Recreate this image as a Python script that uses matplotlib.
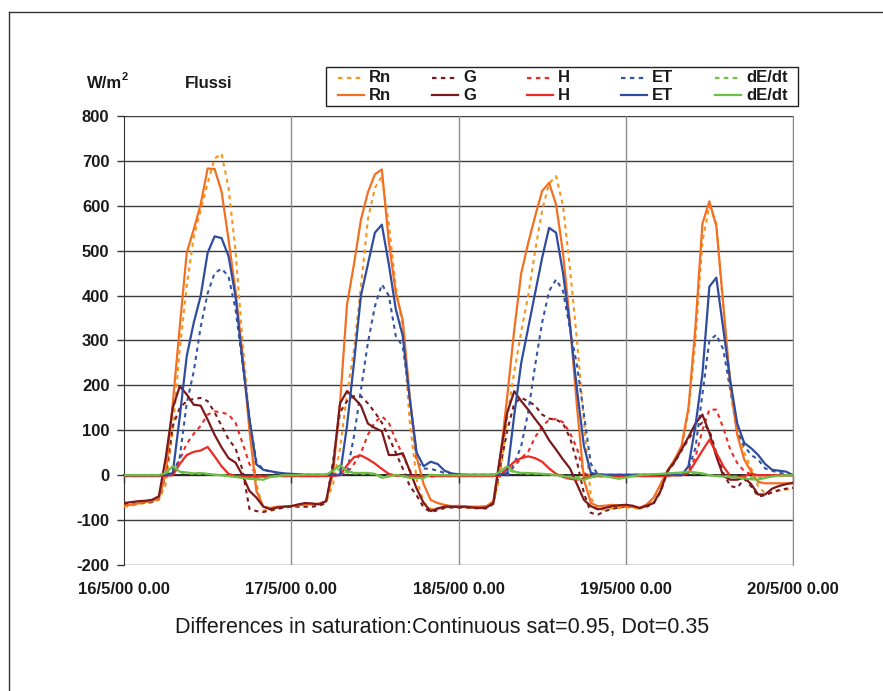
import matplotlib
matplotlib.use("Agg")
import matplotlib.pyplot as plt
from matplotlib.lines import Line2D
from matplotlib import font_manager
import matplotlib.transforms as mtransforms

# the original uses a condensed Helvetica; take Liberation Sans Narrow if present
installed = {f.name for f in font_manager.fontManager.ttflist}
if 'Liberation Sans Narrow' in installed:
    plt.rcParams['font.family'] = ['Liberation Sans Narrow', 'DejaVu Sans']
    lab_size, cap_size, sup_size = 14, 19, 10
else:
    plt.rcParams['font.family'] = ['Liberation Sans', 'DejaVu Sans']
    lab_size, cap_size, sup_size = 12, 15.5, 8

# hourly values, 16/5/00 0.00 -> 20/5/00 0.00 (97 points), W/m2
hours = list(range(97))
day_ticks = [0, 24, 48, 72, 96]
day_labels = ["16/5/00 0.00", "17/5/00 0.00", "18/5/00 0.00", "19/5/00 0.00", "20/5/00 0.00"]

# continuous lines: sat=0.95
rn_sat = [-68, -66, -63, -60, -58, -52, 5, 160, 330, 495, 547, 603,
          683, 682, 632, 525, 410, 270, 100, -35, -70, -73, -70, -70,
          -69, -67, -66, -65, -63, -58, 5, 160, 380, 470, 569, 630,
          670, 681, 520, 406, 345, 176, 40, -20, -55, -62, -66, -69,
          -68, -70, -70, -70, -69, -58, 40, 176, 324, 450, 517, 577,
          633, 651, 603, 495, 339, 153, -10, -62, -69, -68, -66, -68,
          -70, -70, -73, -65, -50, -20, 10, 35, 65, 150, 330, 560,
          610, 555, 380, 200, 90, 35, 8, -15, -18, -18, -18, -18,
          -18]
g_sat = [-62, -60, -58, -57, -55, -47, 40, 150, 198, 180, 157, 155,
         124, 90, 62, 38, 28, 0, -35, -50, -70, -76, -72, -70,
         -69, -65, -62, -63, -65, -58, 20, 160, 187, 172, 155, 115,
         105, 98, 45, 45, 49, 10, -30, -62, -80, -74, -70, -70,
         -71, -70, -72, -73, -72, -62, 45, 140, 187, 165, 146, 125,
         105, 78, 57, 35, 15, -20, -55, -69, -76, -73, -69, -67,
         -66, -68, -73, -68, -62, -35, 10, 30, 57, 85, 115, 135,
         94, 42, -2, -10, -10, -5, -20, -43, -43, -30, -24, -20,
         -17]
h_sat = [-2, -2, -2, -2, -2, -2, -1, 0, 25, 45, 52, 55,
         63, 42, 20, 3, -2, -3, -3, -3, -3, -2, -2, -2,
         -2, -2, -2, -2, -2, -2, -1, 0, 22, 40, 44, 36,
         26, 14, 3, -1, -2, -2, -2, -2, -2, -2, -2, -2,
         -2, -2, -2, -2, -2, -2, 0, 15, 30, 38, 42, 38,
         30, 15, 3, -4, -8, -10, -7, -3, -2, -2, -2, -2,
         -2, -2, -2, -2, -2, -2, -1, 0, 0, 5, 30, 55,
         79, 50, 20, -2, -5, -2, 3, 0, 0, 0, 0, 0,
         0]
et_sat = [0, 0, 0, 0, 0, 0, 0, 5, 130, 265, 339, 399,
          495, 532, 528, 488, 399, 255, 125, 24, 12, 9, 6, 4,
          3, 2, 1, 1, 1, 1, 1, 1, 110, 250, 400, 470,
          540, 558, 470, 370, 310, 170, 50, 20, 30, 25, 10, 4,
          2, 1, 1, 1, 1, 1, 1, 5, 134, 250, 328, 406,
          484, 551, 540, 450, 332, 191, 65, 5, 2, 1, 1, 1,
          1, 1, 1, 1, 1, 1, 1, 1, 0, 20, 110, 225,
          420, 440, 325, 210, 115, 72, 60, 45, 25, 12, 10, 8,
          0]
de_sat = [0, 0, 0, 0, 0, 0, 5, 20, 8, 6, 4, 5,
          3, 1, 0, -2, -4, -6, -8, -9, -10, -4, -2, 0,
          0, 0, 1, 1, 1, 1, 10, 22, 9, 5, 5, 5,
          3, -6, -3, 1, -2, -6, -6, -6, 1, 0, 0, 0,
          0, 0, 0, 0, 0, 0, 8, 20, 8, 5, 5, 4,
          3, 2, 0, -2, -5, -8, -10, -5, 0, -2, -5, -8,
          -5, -2, 0, 1, 2, 3, 4, 5, 6, 8, 6, 4,
          0, -2, -3, -4, -5, -7, -9, -10, -6, -3, -1, 0,
          0]

# dotted lines: sat=0.35
rn_dot = [-70, -68, -65, -62, -60, -55, -20, 100, 280, 420, 530, 590,
          650, 705, 716, 640, 500, 300, 120, -20, -78, -80, -74, -72,
          -70, -70, -70, -68, -65, -60, -20, 60, 180, 280, 420, 570,
          640, 665, 560, 420, 330, 120, -10, -60, -75, -75, -72, -70,
          -70, -72, -72, -72, -72, -62, 0, 130, 230, 320, 400, 500,
          590, 650, 666, 600, 460, 300, 120, -50, -78, -76, -74, -73,
          -72, -72, -75, -68, -52, -22, 8, 35, 60, 140, 300, 520,
          600, 560, 370, 210, 110, 50, 15, -25, -40, -38, -35, -32,
          -30]
g_dot = [-65, -64, -62, -61, -60, -52, 0, 110, 150, 165, 170, 172,
         165, 140, 110, 80, 60, 12, -75, -80, -82, -78, -75, -72,
         -70, -70, -70, -70, -68, -62, 30, 140, 165, 176, 176, 160,
         140, 117, 85, 50, 15, -24, -45, -72, -82, -78, -73, -72,
         -72, -72, -73, -74, -74, -64, 20, 100, 160, 172, 165, 155,
         135, 126, 124, 115, 83, 30, -40, -84, -88, -80, -75, -72,
         -70, -70, -74, -70, -63, -37, 8, 28, 55, 80, 105, 117,
         100, 50, 5, -24, -28, -8, -25, -47, -45, -38, -33, -30,
         -28]
h_dot = [-2, -2, -2, -2, -2, -2, -1, 5, 35, 70, 92, 110,
         135, 142, 140, 135, 117, 72, 25, 0, -3, -3, -2, -2,
         -2, -2, -2, -2, -2, -2, -1, 0, 5, 25, 50, 90,
         118, 131, 117, 78, 45, 10, -2, -3, -3, -2, -2, -2,
         -2, -2, -2, -2, -2, -2, -1, 0, 20, 38, 52, 85,
         108, 124, 125, 118, 94, 60, 5, -3, -3, -2, -2, -2,
         -2, -2, -2, -2, -2, -2, -1, 0, 0, 10, 40, 100,
         146, 146, 105, 57, 27, 9, 2, 0, 0, 0, 0, 0,
         0]
et_dot = [0, 0, 0, 0, 0, 0, 0, 0, 40, 160, 230, 330,
          405, 450, 460, 443, 370, 250, 125, 30, 12, 8, 5, 3,
          2, 1, 1, 1, 1, 1, 1, 1, 5, 87, 190, 295,
          376, 425, 400, 310, 287, 176, 30, 15, 14, 10, 5, 2,
          1, 1, 1, 1, 1, 1, 1, 0, 25, 65, 140, 245,
          340, 410, 436, 410, 325, 245, 135, 25, 2, 1, 1, 1,
          1, 1, 1, 1, 1, 1, 1, 1, 0, 15, 60, 180,
          300, 313, 280, 190, 95, 65, 45, 35, 15, 10, 5, 3,
          0]
de_dot = [0, 0, 0, 0, 0, 0, 3, 12, 6, 4, 3, 3,
          2, 1, 0, -1, -2, -3, -4, -5, -5, -3, -1, 0,
          0, 0, 0, 0, 0, 0, 5, 14, 6, 4, 3, 3,
          2, -2, -2, 0, -1, -3, -4, -4, 0, 0, 0, 0,
          0, 0, 0, 0, 0, 0, 5, 12, 6, 4, 3, 3,
          2, 1, 0, -1, -3, -4, -5, -3, 0, -1, -3, -4,
          -3, -1, 0, 1, 1, 2, 2, 3, 4, 5, 4, 3,
          0, -1, -2, -2, -3, -4, -5, -6, -4, -2, -1, 0,
          0]

names = ["Rn", "G", "H", "ET", "dE/dt"]
solid_series = [rn_sat, g_sat, h_sat, et_sat, de_sat]
dot_series = [rn_dot, g_dot, h_dot, et_dot, de_dot]
solid_colors = ["#F36F21", "#7B1A1C", "#EE2A24", "#2F4C9F", "#6DBE45"]
dot_colors = ["#F7941D", "#7B1A1C", "#EE2A24", "#3355A5", "#74C044"]
dot_style = (0, (2, 2))

W, H = 883, 691
fig = plt.figure(figsize=(W / 100, H / 100), dpi=100)
ax = fig.add_axes([124 / W, 1 - 565 / H, (793 - 124) / W, 449 / H])

for vals, c in zip(dot_series, dot_colors):
    ax.plot(hours, vals, color=c, lw=1.5, linestyle=dot_style, zorder=3)
for vals, c in zip(solid_series, solid_colors):
    ax.plot(hours, vals, color=c, lw=1.6, zorder=4)

ax.set_xlim(0, 96)
ax.set_ylim(-200, 800)
ax.set_yticks(range(-200, 801, 100))
ax.set_yticklabels([str(v) for v in range(-200, 801, 100)], fontweight='bold', fontsize=lab_size)
ax.set_xticks(day_ticks)
ax.set_xticklabels([])
ax.tick_params(axis='y', direction='out', length=5, width=1, colors='#333333', labelcolor='#1a1a1a', pad=5.5)
ax.tick_params(axis='x', direction='out', length=6, width=1, colors='#333333')

for v in range(-200, 801, 100):
    ax.axhline(v, color='#3a3a3a', lw=1.0, zorder=1)
for d in day_ticks[1:]:
    ax.axvline(d, color='#8c8c8c', lw=1.0, zorder=1)

ax.spines['top'].set_visible(False)
ax.spines['right'].set_color('#8c8c8c')
ax.spines['left'].set_color('#333333')
ax.spines['bottom'].set_position(('data', 0))
ax.spines['bottom'].set_color('#222222')
ax.spines['bottom'].set_linewidth(1.3)
ax.spines['bottom'].set_zorder(2)

trans = mtransforms.blended_transform_factory(ax.transData, ax.transAxes)
for d, lab in zip(day_ticks, day_labels):
    ax.text(d, -25 / 449, lab, transform=trans, ha='center', va='center',
            fontsize=lab_size, fontweight='bold', color='#1a1a1a')

# titles
fig.text(87 / W, 1 - 83 / H, "W/m", ha='left', va='center', fontsize=lab_size, fontweight='bold', color='#1a1a1a')
fig.text(122 / W, 1 - 77 / H, "2", ha='left', va='center', fontsize=sup_size, fontweight='bold', color='#1a1a1a')
fig.text(185 / W, 1 - 83 / H, "Flussi", ha='left', va='center', fontsize=lab_size, fontweight='bold', color='#1a1a1a')
fig.text(442 / W, 1 - 628 / H, "Differences in saturation:Continuous sat=0.95, Dot=0.35",
         ha='center', va='center', fontsize=cap_size, color='#1a1a1a')

# legend box (Excel style, two rows: dotted then continuous)
box = plt.Rectangle((326 / W, 1 - 106 / H), (798 - 326) / W, 39 / H, transform=fig.transFigure,
                    fill=False, edgecolor='#222222', lw=1.0)
fig.add_artist(box)
for i, name in enumerate(names):
    x0 = 338 + 94.25 * i
    for row_y, col, ls in [(78, dot_colors[i], dot_style), (95, solid_colors[i], '-')]:
        fig.add_artist(Line2D([x0 / W, (x0 + 26) / W], [1 - row_y / H, 1 - row_y / H],
                              transform=fig.transFigure, color=col, lw=1.6, linestyle=ls))
        fig.text((x0 + 31) / W, 1 - row_y / H, name, ha='left', va='center',
                 fontsize=lab_size, fontweight='bold', color='#1a1a1a')

# outer frame of the figure
fig.add_artist(Line2D([9 / W, 9 / W], [0, 1 - 12 / H], transform=fig.transFigure, color='#333333', lw=1.0))
fig.add_artist(Line2D([9 / W, 1], [1 - 12 / H, 1 - 12 / H], transform=fig.transFigure, color='#333333', lw=1.0))

fig.savefig("out.png", dpi=100)
